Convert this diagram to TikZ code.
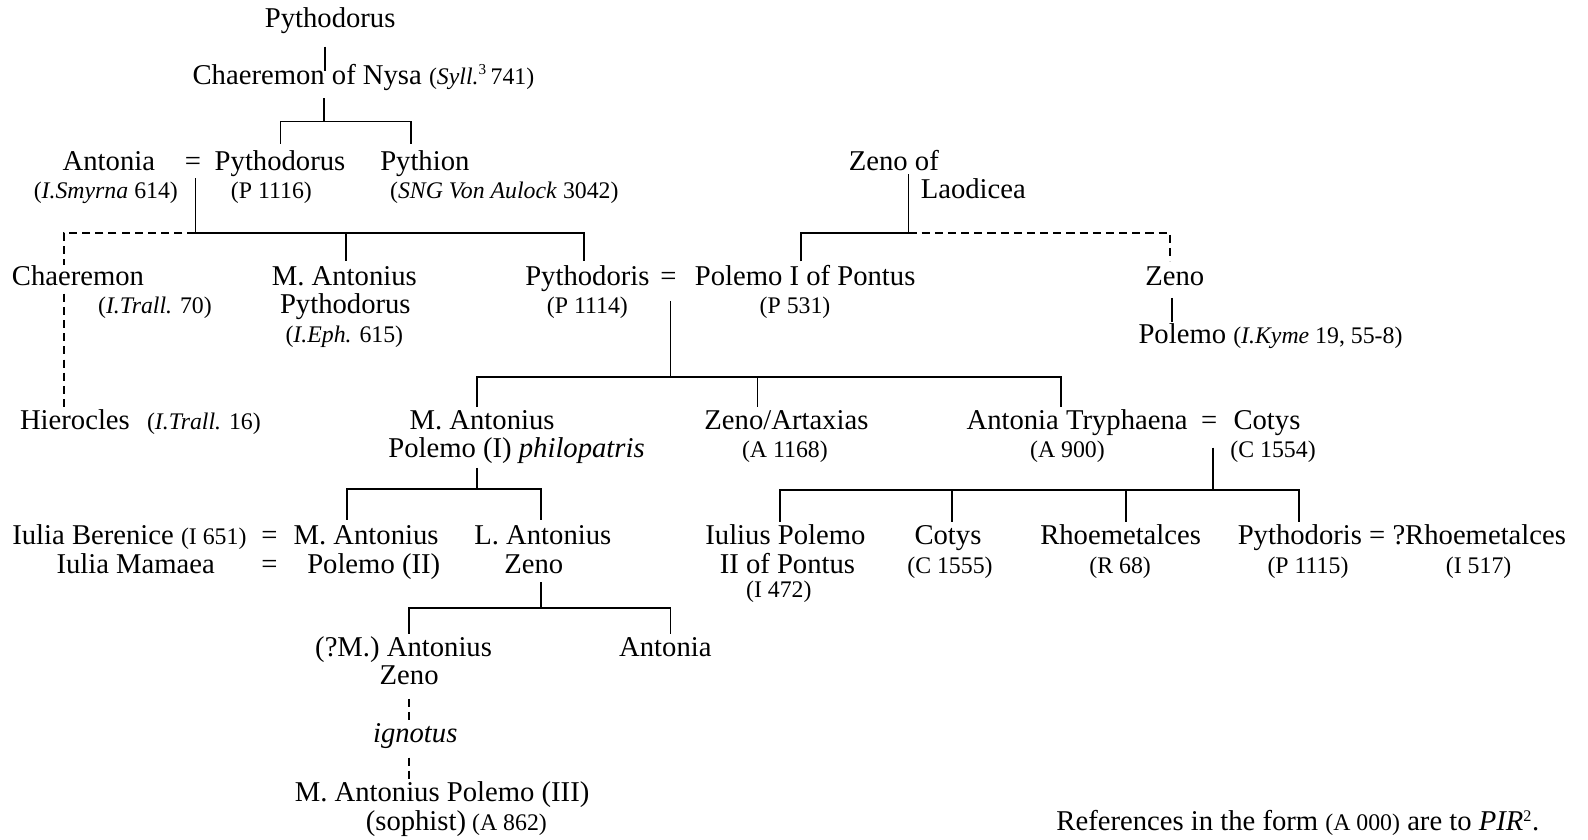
\documentclass[tikz,border=0pt]{standalone}
\usepackage{fontspec}
\setmainfont{Liberation Serif}
\newcommand\smf{\fontsize{23.5}{24}\selectfont}
\newcommand\mnf{\fontsize{28.3}{28}\selectfont}
\begin{document}
\begin{tikzpicture}[x=1pt,y=-1pt,
  nm/.style={anchor=base,inner sep=0pt,font=\mnf},
  nmw/.style={anchor=base west,inner sep=0pt,font=\mnf},
  sm/.style={anchor=base,inner sep=0pt,font=\smf},
  smw/.style={anchor=base west,inner sep=0pt,font=\smf},
  ln/.style={line width=1.8pt},
  dl/.style={line width=1.5pt,dash pattern=on 8pt off 5pt}]
\useasboundingbox (0,0) rectangle (1568,829);

% ---- text ----
\node[nm] (p0) at (326,27) {Pythodorus};
\node[nmw] (ch0) at (190,83) {Chaeremon of Nysa {\smf(\textit{Syll.}\textsuperscript{\fontsize{15}{15}\selectfont 3}\,741)}};
\node[nm] (ant1) at (107.5,168) {Antonia};
\node[nm] (eq1) at (190.5,168) {=};
\node[nm] (py1) at (276.5,168) {Pythodorus};
\node[nm] (pyn) at (419.5,168) {Pythion};
\node[sm] (ant1r) at (104.5,196) {(\textit{I.Smyrna} 614)};
\node[sm] (py1r) at (268,196) {(P 1116)};
\node[sm] (pynr) at (498,196) {(\textit{SNG Von Aulock} 3042)};
\node[nmw] (zl1) at (838,168) {Zeno of};
\node[nmw] (zl2) at (909,196) {Laodicea};

\node[nm] (chr) at (77,282) {Chaeremon};
\node[sm] (chrr) at (153,310) {(\textit{I.Trall.} 70)};
\node[nm] (mapa) at (340,282) {M. Antonius};
\node[nm] (mapb) at (341,310) {Pythodorus};
\node[sm] (mapr) at (340,338) {(\textit{I.Eph.} 615)};
\node[nm] (pyd) at (580,282) {Pythodoris};
\node[nm] (eq2) at (660,282) {=};
\node[nm] (pol1) at (795,282) {Polemo I of Pontus};
\node[sm] (pydr) at (580,310) {(P 1114)};
\node[sm] (pol1r) at (785,310) {(P 531)};
\node[nm] (zn) at (1160,282) {Zeno};
\node[nmw] (zpol) at (1124,339) {Polemo {\smf(\textit{I.Kyme} 19, 55-8)}};
\node[nm] (hie) at (74,424) {Hierocles};
\node[smw] (hier) at (145,424) {(\textit{I.Trall.} 16)};

\node[nm] (mpo1) at (476,424) {M. Antonius};
\node[nm] (mpo2) at (510,452) {Polemo (I) \textit{philopatris}};
\node[nm] (zart) at (776.5,424) {Zeno/Artaxias};
\node[sm] (zartr) at (775,452) {(A 1168)};
\node[nm] (atr) at (1063.5,424) {Antonia Tryphaena};
\node[nm] (eq3) at (1194,424) {=};
\node[nm] (cot) at (1251,424) {Cotys};
\node[sm] (atrr) at (1054,452) {(A 900)};
\node[sm] (cotr) at (1257,452) {(C 1554)};

\node[nmw] (ib) at (12,538) {Iulia Berenice {\smf(I 651)}};
\node[nm] (im) at (134,566) {Iulia Mamaea};
\node[nm] (eq4) at (266,538) {=};
\node[nm] (eq5) at (266,566) {=};
\node[nm] (mp2a) at (361.5,538) {M. Antonius};
\node[nm] (mp2b) at (369,566) {Polemo (II)};
\node[nm] (laz1) at (536,538) {L. Antonius};
\node[nm] (laz2) at (527,566) {Zeno};
\node[nm] (ipo1) at (775.5,538) {Iulius Polemo};
\node[nm] (ipo2) at (777.5,566) {II of Pontus};
\node[sm] (ipo3) at (769,590) {(I 472)};
\node[nm] (cot2) at (936,538) {Cotys};
\node[sm] (cot2r) at (938,566) {(C 1555)};
\node[nm] (rho) at (1106.5,538) {Rhoemetalces};
\node[sm] (rhor) at (1106,566) {(R 68)};
\node[nmw] (pyd2) at (1222,538) {Pythodoris = ?Rhoemetalces};
\node[sm] (pyd2r) at (1291.5,566) {(P 1115)};
\node[sm] (rho2r) at (1460,566) {(I 517)};

\node[nm] (maz1) at (398.5,648) {(?M.) Antonius};
\node[nm] (maz2) at (404,676) {Zeno};
\node[nm] (ant3) at (657,648) {Antonia};
\node[nm] (ign) at (410,733) {\textit{ignotus}};
\node[nm] (mp3) at (436.5,791) {M. Antonius Polemo (III)};
\node[nmw] (soph) at (361,820) {(sophist)\hspace{6pt}{\smf(A 862)}};
\node[anchor=base east,inner sep=0pt,font=\mnf] (refs) at (1520,820) {References in the form {\smf(A 000)} are to \textit{PIR}\textsuperscript{\fontsize{16}{16}\selectfont 2}.};

% ---- junction coordinates ----
\coordinate (a1) at (321,46);  \coordinate (a2) at (321,70);
\coordinate (b1) at (320,97);  \coordinate (b2) at (320,120);
\coordinate (b3) at (277,120); \coordinate (b4) at (277,142);
\coordinate (b5) at (406,120); \coordinate (b6) at (406,142);
\coordinate (c1) at (193,176); \coordinate (c2) at (193,230);
\coordinate (c3) at (577,230); \coordinate (c4) at (577,258);
\coordinate (c5) at (342,230); \coordinate (c6) at (342,258);
\coordinate (c7) at (63,230);  \coordinate (c8) at (63,262);
\coordinate (d1) at (897,172); \coordinate (d2) at (897,230);
\coordinate (d3) at (791,230); \coordinate (d4) at (791,258);
\coordinate (d5) at (1155,230);\coordinate (d6) at (1155,258);
\coordinate (e1) at (63,290);  \coordinate (e2) at (63,405);
\coordinate (f1) at (1157,294);\coordinate (f2) at (1157,318);
\coordinate (g1) at (662,297); \coordinate (g2) at (662,372);
\coordinate (g3) at (471,372); \coordinate (g4) at (471,402);
\coordinate (g5) at (1048,372);\coordinate (g6) at (1048,402);
\coordinate (g7) at (748,372); \coordinate (g8) at (748,402);
\coordinate (h1) at (471,462); \coordinate (h2) at (471,483);
\coordinate (h3) at (343,483); \coordinate (h4) at (343,513);
\coordinate (h5) at (534,483); \coordinate (h6) at (534,513);
\coordinate (k1) at (1198,442);\coordinate (k2) at (1198,484);
\coordinate (k3) at (770,484); \coordinate (k4) at (770,515);
\coordinate (k5) at (1283,484);\coordinate (k6) at (1283,515);
\coordinate (k7) at (940,484); \coordinate (k8) at (940,515);
\coordinate (k9) at (1112,484);\coordinate (k10) at (1112,515);
\coordinate (m1) at (534,575); \coordinate (m2) at (534,600);
\coordinate (m3) at (404,600); \coordinate (m4) at (404,626);
\coordinate (m5) at (662,600); \coordinate (m6) at (662,626);
\coordinate (n1) at (404,690); \coordinate (n2) at (404,712);
\coordinate (n3) at (404,748); \coordinate (n4) at (404,772);

% ---- connectors ----
\draw[ln] (a1) -- (a2);
\draw[ln] (b1) -- (b2);
\draw[ln] (b4) -- (b3) -- (b5) -- (b6);
\draw[ln] (c1) -- (c2) -- (c3) -- (c4);
\draw[ln] (c5) -- (c6);
\draw[dl] (c2) -- (c7) -- (c8);
\draw[ln] (d1) -- (d2);
\draw[ln] (d4) -- (d3) -- (d2);
\draw[dl] (d2) -- (d5) -- (d6);
\draw[dl] (e1) -- (e2);
\draw[ln] (f1) -- (f2);
\draw[ln] (g1) -- (g2);
\draw[ln] (g4) -- (g3) -- (g5) -- (g6);
\draw[ln] (g7) -- (g8);
\draw[ln] (h1) -- (h2);
\draw[ln] (h4) -- (h3) -- (h5) -- (h6);
\draw[ln] (k1) -- (k2);
\draw[ln] (k4) -- (k3) -- (k5) -- (k6);
\draw[ln] (k7) -- (k8);
\draw[ln] (k9) -- (k10);
\draw[ln] (m1) -- (m2);
\draw[ln] (m4) -- (m3) -- (m5) -- (m6);
\draw[dl] (n1) -- (n2);
\draw[dl] (n3) -- (n4);
\end{tikzpicture}
\end{document}
